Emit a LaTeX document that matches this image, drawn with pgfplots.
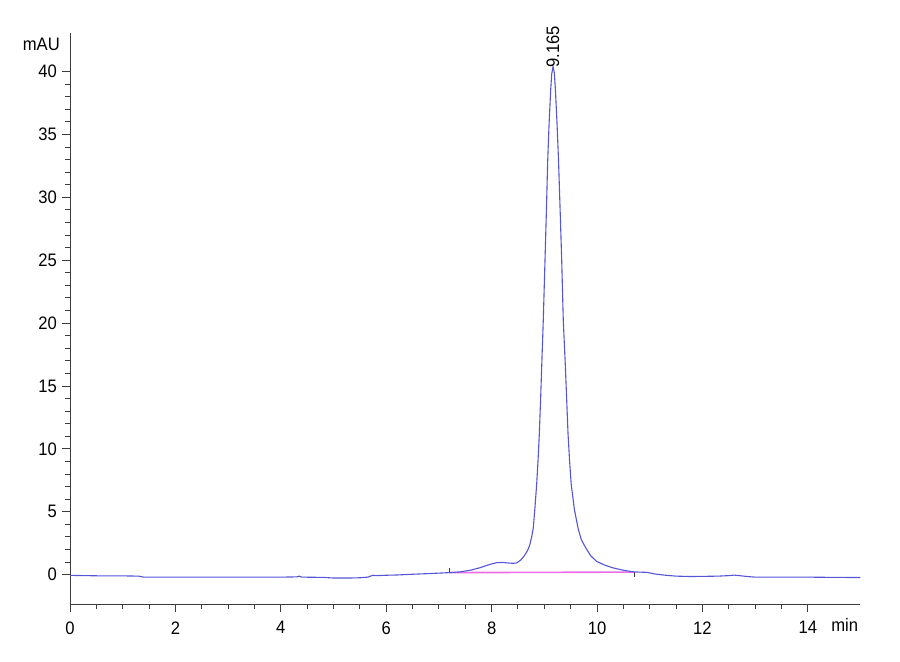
\documentclass[border=0pt]{standalone}
\usepackage{fontspec}
\setmainfont{Liberation Sans}[FakeStretch=0.92]
\usepackage{pgfplots}
\pgfplotsset{compat=1.18}
\definecolor{trace}{RGB}{85,85,215}
\definecolor{basel}{RGB}{235,110,230}
\definecolor{axgray}{RGB}{60,60,60}
\begin{document}
\begin{tikzpicture}
\begin{axis}[
    scale only axis,
    width=394pt, height=285pt,
    xmin=0, xmax=15,
    ymin=-2.37, ymax=43.1,
    axis lines=left,
    axis line style={-, axgray, line width=0.5pt},
    tick align=outside,
    tick style={axgray, line width=0.5pt},
    major tick length=4pt,
    minor tick length=2.5pt,
    xtick={0,2,...,14},
    minor x tick num=3,
    ytick={0,5,...,40},
    minor y tick num=4,
    ticklabel style={font=\fontsize{9}{10}\selectfont, text=black},
    xticklabel style={yshift=-1pt},
    yticklabel style={xshift=1pt},
    /pgf/number format/assume math mode=true,
    clip=false,
]
\path (axis cs:-1.33,-6.91) rectangle (axis cs:15.75,45.7);
% integration baseline
\addplot[basel, line width=0.8pt] coordinates {(7.2,0.16) (10.7,0.2)};
\addplot[axgray, line width=0.4pt] coordinates {(7.2,0.16) (7.2,0.5)};
\addplot[axgray, line width=0.4pt] coordinates {(10.7,0.2) (10.7,-0.15)};
% chromatogram
\addplot[trace, line width=0.55pt] coordinates {
(0,-0.06) (0.3,-0.08) (0.6,-0.1) (1.0,-0.1) (1.3,-0.12) (1.4,-0.2)
(2.0,-0.2) (3.0,-0.2) (4.0,-0.2) (4.3,-0.18) (4.35,-0.12) (4.4,-0.2)
(4.8,-0.22) (5.0,-0.27) (5.3,-0.27) (5.5,-0.25) (5.65,-0.2) (5.75,-0.05)
(5.8,-0.08) (6.0,-0.05) (6.2,-0.03) (6.5,0.03) (6.8,0.08) (7.0,0.12)
(7.2,0.16) (7.4,0.22) (7.6,0.35) (7.78,0.55) (7.9,0.72) (8.0,0.85)
(8.1,0.95) (8.2,0.97) (8.3,0.93) (8.4,0.9) (8.47,0.92) (8.55,1.15)
(8.62,1.5) (8.68,1.9) (8.72,2.3) (8.76,3.0) (8.79,3.7) (8.82,5.2)
(8.855,7.2) (8.88,9.0) (8.905,11.2) (8.93,14.0) (8.95,16.5) (8.98,20.2)
(9.013,25.0) (9.04,29.0) (9.064,32.9) (9.09,35.8) (9.12,38.5) (9.14,39.8)
(9.165,40.4) (9.19,39.9) (9.21,38.6) (9.24,36.0) (9.27,32.9) (9.30,29.0)
(9.33,25.0) (9.36,20.2) (9.40,16.5) (9.45,11.2) (9.48,9.0) (9.51,7.2)
(9.57,5.2) (9.64,3.7) (9.7,2.8) (9.79,2.1) (9.88,1.5) (9.99,1.06)
(10.15,0.75) (10.31,0.53) (10.5,0.35) (10.69,0.22) (10.8,0.2)
(10.95,0.18) (11.1,0.05) (11.3,-0.05) (11.5,-0.12) (11.76,-0.15)
(12.0,-0.14) (12.3,-0.12) (12.5,-0.08) (12.6,-0.04) (12.7,-0.08)
(12.85,-0.15) (13.0,-0.2) (13.5,-0.2) (14.0,-0.2) (14.5,-0.22) (15.0,-0.23)
};
% peak label
\node[rotate=90, anchor=west, font=\fontsize{9}{10}\selectfont, inner sep=0.5pt]
  at (axis cs:9.165,40.2) {9.165};
\node[anchor=east, font=\fontsize{9}{10}\selectfont, inner sep=1pt]
  at (axis cs:-0.15,42.2) {mAU};
\node[anchor=north east, font=\fontsize{9}{10}\selectfont, inner sep=1pt]
  at (axis cs:15,-3.3) {min};
\end{axis}
\end{tikzpicture}
\end{document}
